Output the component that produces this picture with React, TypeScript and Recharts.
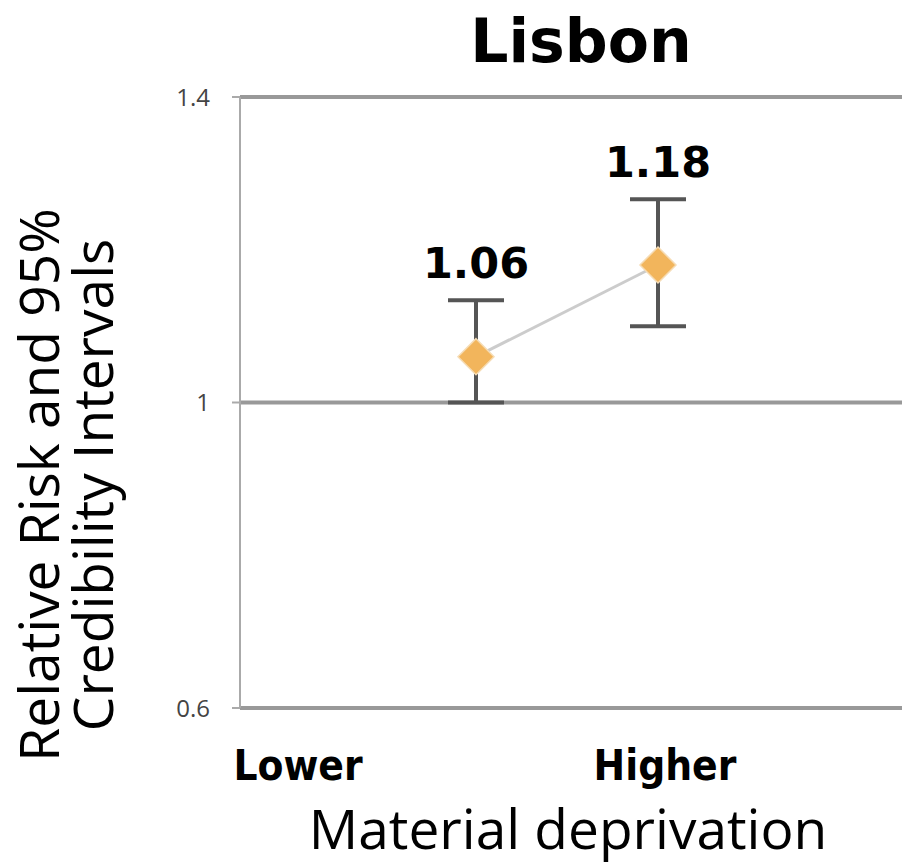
import React from "react"
import {
  CartesianGrid,
  ErrorBar,
  LabelList,
  Line,
  LineChart,
  XAxis,
  YAxis,
} from "recharts"

const categories = ["Lower", "Higher"]
const relativeRisk = [1.06, 1.18]
const ciLower = [1.0, 1.1]
const ciUpper = [1.134, 1.266]
const yTicks = [0.6, 1, 1.4]

const data = categories.map((cat, i) => ({
  cat,
  rr: relativeRisk[i],
  upper: ciUpper[i],
  err: [relativeRisk[i] - ciLower[i], ciUpper[i] - relativeRisk[i]],
}))

// labels in the original sit off the points, shift them the same way
const TICK_SHIFT = [-178, 7]

const XTick = (props: any) => {
  const { x, y, payload, index } = props
  return (
    <text
      x={x + TICK_SHIFT[index]}
      y={y + 66}
      textAnchor="middle"
      fontFamily="'DejaVu Sans Condensed', 'DejaVu Sans', sans-serif"
      fontWeight="bold"
      fontSize={42}
      fill="#000"
    >
      {payload.value}
    </text>
  )
}

const Diamond = (props: any) => {
  const { cx, cy, index } = props
  const r = 18
  return (
    <path
      key={"d" + index}
      d={`M${cx},${cy - r} L${cx + r},${cy} L${cx},${cy + r} L${cx - r},${cy} Z`}
      fill="#F2B55C"
      stroke="#f6dcb4"
      strokeWidth={1.5}
    />
  )
}

const font = "'Open Sans', 'DejaVu Sans', sans-serif"
const boldFont = "'DejaVu Sans', sans-serif"

export default function App() {
  return (
    <div style={{ position: "relative", width: 902, height: 858, background: "#fff" }}>
      <div
        style={{
          position: "absolute",
          left: 373,
          top: 1,
          width: 400,
          textAlign: "center",
          fontFamily: boldFont,
          fontWeight: 700,
          fontSize: 60,
          lineHeight: "64px",
        }}
      >
        Lisbon
      </div>
      <div
        style={{
          position: "absolute",
          left: 57,
          top: 477,
          width: 700,
          marginLeft: -350,
          marginTop: -60,
          height: 120,
          transform: "rotate(-90deg)",
          display: "flex",
          flexDirection: "column",
          justifyContent: "center",
          textAlign: "center",
          fontFamily: font,
          fontSize: 55,
          lineHeight: "54px",
        }}
      >
        <div>Relative Risk and 95%</div>
        <div>Credibility Intervals</div>
      </div>
      <div
        style={{
          position: "absolute",
          left: 260,
          top: 792,
          width: 600,
          textAlign: "center",
          fontFamily: font,
          fontSize: 55,
          lineHeight: "56px",
        }}
      >
        Material deprivation
      </div>
      <div style={{ position: "absolute", left: 0, top: 0 }}>
        <LineChart
          width={902}
          height={858}
          data={data}
          margin={{ top: 89, right: 0, bottom: 128, left: 0 }}
        >
          <CartesianGrid vertical={false} stroke="#999" strokeWidth={4} />
          <XAxis
            dataKey="cat"
            height={30}
            axisLine={false}
            tickLine={false}
            tickMargin={0}
            padding={{ left: 236, right: 252 }}
            tick={<XTick />}
            interval={0}
          />
          <YAxis
            type="number"
            domain={[0.6, 1.4]}
            ticks={yTicks}
            width={232}
            axisLine={{ stroke: "#aaa", strokeWidth: 2 }}
            tickLine={{ stroke: "#aaa", strokeWidth: 2 }}
            tickSize={8}
            tickMargin={22}
            tick={{ fill: "#444", fontSize: 24, fontFamily: font }}
          />
          <Line
            dataKey="rr"
            stroke="#cccccc"
            strokeWidth={3}
            dot={<Diamond />}
            activeDot={false}
            isAnimationActive={false}
          >
            <ErrorBar dataKey="err" direction="y" width={28} strokeWidth={4} stroke="#555" />
          </Line>
          <Line
            dataKey="upper"
            stroke="none"
            dot={false}
            activeDot={false}
            isAnimationActive={false}
          >
            <LabelList
              dataKey="rr"
              position="top"
              offset={22}
              fill="#000"
              fontSize={43}
              fontWeight="bold"
              fontFamily={boldFont}
            />
          </Line>
        </LineChart>
      </div>
    </div>
  )
}
